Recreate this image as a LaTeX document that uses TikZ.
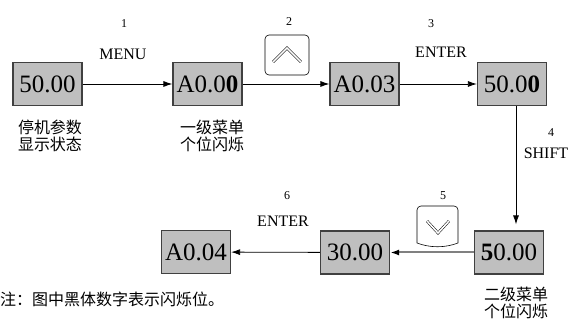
\documentclass[tikz,border=0pt]{standalone}
\usepackage{fontspec}
\setmainfont{Liberation Serif}
\newfontfamily\cjk{Noto Sans CJK SC}
\usetikzlibrary{arrows.meta}
\begin{document}
\begin{tikzpicture}[x=1pt,y=-1pt,
  disp/.style={draw=black!75, line width=1.2pt, fill=black!25, minimum width=69pt, minimum height=43pt, inner sep=0pt, font=\fontsize{25}{25}\selectfont},
  conn/.style={line width=0.8pt, -{Latex[length=9pt,width=6pt]}},
  grayconn/.style={draw=black!50, line width=2pt, -{Latex[length=9pt,width=6pt,color=black]}},
  num/.style={font=\fontsize{12}{12}\selectfont, inner sep=0pt},
  keylbl/.style={font=\fontsize{16}{16}\selectfont, inner sep=0pt},
  cn/.style={font=\cjk\fontsize{16}{16}\selectfont, inner sep=0pt},
  keybox/.style={draw=black, line width=0.6pt, fill=white},
  chev/.style={draw=black, double=white, double distance=1.6pt, line width=0.5pt},
]
\useasboundingbox (0,0) rectangle (571,320);

% display boxes
\node[disp] (b1) at (47.5,84) {50.00};
\node[disp] (b2) at (207.5,84) {A0.0\textbf{0}};
\node[disp] (b3) at (364.5,84) {A0.03};
\node[disp] (b4) at (512,84) {50.0\textbf{0}};
\node[disp] (b5) at (509,252.5) {\textbf{5}0.00};
\node[disp] (b6) at (355,252.5) {30.00};
\node[disp] (b7) at (196,252) {A0.04};

% connectors
\coordinate (vx) at (516,0);
\draw[conn] (b1) -- (b2);
\draw[conn] (b2) -- (b3);
\draw[conn] (b3) -- (b4);
\draw[conn, shorten >=6pt] (b4.south -| vx) -- (b5.north -| vx);
\draw[grayconn] (b5) -- (b6);
\draw[conn] (b6) -- (b7);

% up key
\draw[keybox, rounded corners=4pt] (265,35) rectangle (309,75);
\draw[chev] (273,62) -- (287,48) -- (301,62);

% down key
\draw[keybox] (421,206) -- (454,206) to[out=0,in=90] (458,210) -- (458,243)
  .. controls (445,248) and (430,248) .. (417,243) -- (417,210) to[out=90,in=180] (421,206) -- cycle;
\draw[chev] (427,221) -- (438,233) -- (449,221);

% step labels
\node[num] (n1) at (124,24) {1};
\node[keylbl] (k1) at (123,54) {MENU};
\node[num] (n2) at (289,22) {2};
\node[num] (n3) at (431,24) {3};
\node[keylbl] (k3) at (441,52) {ENTER};
\node[num] (n4) at (551,133) {4};
\node[keylbl] (k4) at (546,153) {SHIFT};
\node[num] (n5) at (443,196) {5};
\node[num] (n6) at (287,196) {6};
\node[keylbl] (k6) at (283,221) {ENTER};

% chinese captions
\node[cn] (c1a) at (50,127) {停机参数};
\node[cn] (c1b) at (50,144) {显示状态};
\node[cn] (c2a) at (212,127) {一级菜单};
\node[cn] (c2b) at (212,144) {个位闪烁};
\node[cn] (c5a) at (516,294.5) {二级菜单};
\node[cn] (c5b) at (516,311) {个位闪烁};
\node[cn, anchor=west] (note) at (0,299) {注：图中黑体数字表示闪烁位。};
\end{tikzpicture}
\end{document}
